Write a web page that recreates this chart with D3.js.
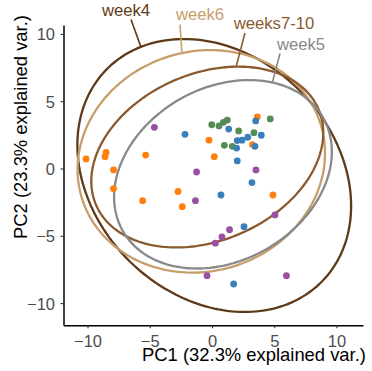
<!DOCTYPE html>
<html>
<head>
<meta charset="utf-8">
<script src="https://cdn.jsdelivr.net/npm/d3@7"></script>
<style>
  html, body { margin: 0; padding: 0; background: #ffffff; }
  svg { display: block; font-family: "Liberation Sans", Arial, Helvetica, sans-serif; }
</style>
</head>
<body>
<svg id="chart" width="372" height="371"></svg>
<script>
// PCA scores, grouped by point colour
const orangePC1 = [-10.12, -8.51, -8.59, -5.33, -7.91, -7.91, -5.57, -2.73, -2.39, -0.24, 0.18, 3.64, 3.25, 4.90];
const orangePC2 = [0.71, 1.19, 0.88, 1.00, -0.11, -1.50, -2.39, -1.71, -2.84, 2.10, 0.88, 3.83, 1.78, -1.97];
const greenPC1 = [-0.02, 0.56, 0.91, 1.23, 2.14, 3.37, 4.68, 0.99, 1.63];
const greenPC2 = [3.25, 3.16, 3.43, 3.60, 2.79, 2.66, 3.68, 1.72, 1.65];
const purplePC1 = [-4.63, -1.24, -1.33, 3.53, 5.06, 1.41, 0.80, 0.27, -0.40, 5.98];
const purplePC2 = [3.06, -0.26, -2.39, -0.11, -3.45, -4.55, -5.09, -5.55, -7.96, -7.96];
const bluePC1 = [-2.17, 1.34, 3.51, 3.96, 2.87, 2.41, 2.03, 1.98, 3.45, 2.03, 3.21, 0.72, 2.57, 1.74];
const bluePC2 = [2.54, 2.93, 3.53, 2.47, 2.32, 2.10, 2.07, 1.52, 1.65, 0.56, -1.05, -1.97, -4.32, -8.58];

// Group ellipses: centre and covariance of each group
const groupNames = ["week4", "week6", "weeks7-10", "week5"];
const groupMeanPC1 = [0.18, -0.86, -0.38, 0.88];
const groupMeanPC2 = [-0.52, 0.53, 0.85, -0.43];
const groupVarPC1 = [53.05, 43.35, 38.09, 33.57];
const groupCovPC = [-10.9, 2.62, 7.35, 6.44];
const groupVarPC2 = [45.1, 29.97, 19.79, 21.51];
const ellipseProb = 0.68;

const xTicks = [-10, -5, 0, 5, 10];
const yTicks = [-10, -5, 0, 5, 10];
const xTitle = "PC1 (32.3% explained var.)";
const yTitle = "PC2 (23.3% explained var.)";

// ---- styling ----
const groupColors = {"week4": "#5e3a19", "week6": "#c89d6c", "weeks7-10": "#8b5a2e", "week5": "#898989"};
const pointColors = {orange: "#ff7f0e", green: "#558b55", purple: "#9b4fa3", blue: "#3a7fba"};
const labelLayout = {
  "week4":     {x: 126, y: 15.5, from: [131, 19.5], toward: [141, 45]},
  "week6":     {x: 200, y: 20.3, from: [180, 24.5], toward: [181.7, 52]},
  "weeks7-10": {x: 274, y: 28.5, from: [245, 33], toward: [236.7, 68]},
  "week5":     {x: 301, y: 50,   from: [280, 53.5], toward: [272.3, 81.5]}
};

const svg = d3.select("#chart");
const panel = {left: 63.5, right: 363, top: 25, bottom: 325.3};

const x = d3.scaleLinear().domain([-11.93, 12.13]).range([panel.left, panel.right]);
const y = d3.scaleLinear().domain([-11.65, 10.66]).range([panel.bottom, panel.top]);

// ---- ellipses (circle mapped through Cholesky factor of the covariance) ----
const ed = Math.sqrt(-2 * Math.log(1 - ellipseProb));
const nSeg = 200;
const ellipses = groupNames.map((name, i) => {
  const u11 = Math.sqrt(groupVarPC1[i]);
  const u12 = groupCovPC[i] / u11;
  const u22 = Math.sqrt(groupVarPC2[i] - u12 * u12);
  const pts = d3.range(nSeg + 1).map(k => {
    const t = 2 * Math.PI * k / nSeg;
    const c = Math.cos(t), s = Math.sin(t);
    return [groupMeanPC1[i] + ed * c * u11, groupMeanPC2[i] + ed * (c * u12 + s * u22)];
  });
  return {name, pts};
});

const line = d3.line().x(d => x(d[0])).y(d => y(d[1]));

svg.append("g").selectAll("path")
  .data(ellipses)
  .join("path")
  .attr("d", d => line(d.pts))
  .attr("fill", "none")
  .attr("stroke", d => groupColors[d.name])
  .attr("stroke-width", 2.3);

// ---- points ----
const pointSets = [
  {key: "orange", xs: orangePC1, ys: orangePC2},
  {key: "green", xs: greenPC1, ys: greenPC2},
  {key: "purple", xs: purplePC1, ys: purplePC2},
  {key: "blue", xs: bluePC1, ys: bluePC2}
];
const pg = svg.append("g");
pointSets.forEach(set => {
  pg.append("g").selectAll("circle")
    .data(set.xs.map((v, i) => [v, set.ys[i]]))
    .join("circle")
    .attr("cx", d => x(d[0]))
    .attr("cy", d => y(d[1]))
    .attr("r", 3.4)
    .attr("fill", pointColors[set.key]);
});

// ---- axes ----
const xAxis = svg.append("g")
  .attr("transform", `translate(0,${panel.bottom})`)
  .call(d3.axisBottom(x).tickValues(xTicks).tickSize(3).tickSizeOuter(0)
        .tickFormat(d => d3.format("d")(d).replace("-", "\u2212")));
const yAxis = svg.append("g")
  .attr("transform", `translate(${panel.left},0)`)
  .call(d3.axisLeft(y).tickValues(yTicks).tickSize(3).tickSizeOuter(0)
        .tickFormat(d => d3.format("d")(d).replace("-", "\u2212")));

[xAxis, yAxis].forEach(ax => {
  ax.select(".domain").attr("stroke", "#000").attr("stroke-width", 1.5);
  ax.selectAll(".tick line").attr("stroke", "#333").attr("stroke-width", 1.1);
  ax.selectAll(".tick text")
    .attr("fill", "#4d4d4d")
    .style("font-size", "16.5px")
    .style("font-family", "'Liberation Sans', Arial, sans-serif");
});
xAxis.selectAll(".tick text").attr("y", 21.4).attr("dy", null);
yAxis.selectAll(".tick text").attr("x", -8.5).attr("dy", "0.36em");

// ---- axis titles ----
svg.append("text")
  .attr("x", 254).attr("y", 361)
  .attr("text-anchor", "middle")
  .style("font-size", "18.4px")
  .attr("fill", "#000")
  .text(xTitle);

svg.append("text")
  .attr("transform", "translate(27,127) rotate(-90)")
  .attr("text-anchor", "middle")
  .style("font-size", "18.4px")
  .attr("fill", "#000")
  .text(yTitle);

// ---- group labels with leader segments ending on each ellipse ----
const lg = svg.append("g");
ellipses.forEach(e => {
  const L = labelLayout[e.name];
  let best = null, bd = Infinity;
  e.pts.forEach(p => {
    const px = x(p[0]), py = y(p[1]);
    const dd = (px - L.toward[0]) ** 2 + (py - L.toward[1]) ** 2;
    if (dd < bd) { bd = dd; best = [px, py]; }
  });
  lg.append("line")
    .attr("x1", L.from[0]).attr("y1", L.from[1])
    .attr("x2", best[0]).attr("y2", best[1])
    .attr("stroke", groupColors[e.name])
    .attr("stroke-width", 1.6);
  lg.append("text")
    .attr("x", L.x).attr("y", L.y)
    .attr("text-anchor", "middle")
    .style("font-size", "16.7px")
    .attr("fill", groupColors[e.name])
    .text(e.name);
});
</script>
</body>
</html>
